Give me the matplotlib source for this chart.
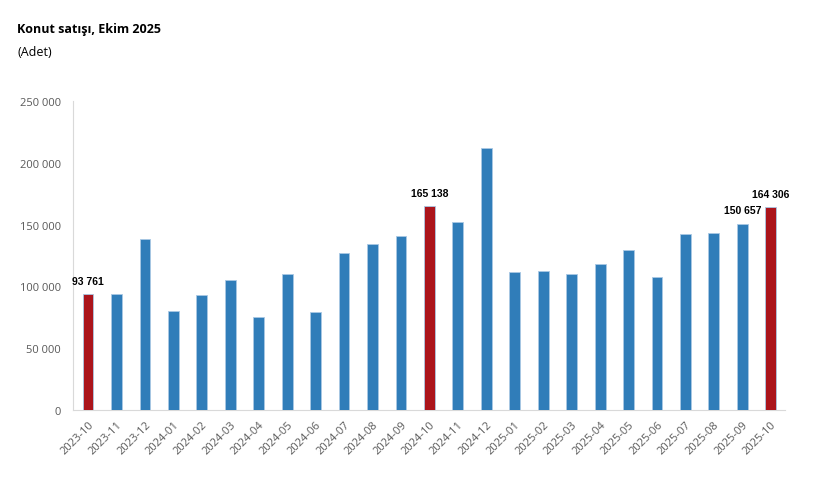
import matplotlib
matplotlib.use("Agg")
import matplotlib.pyplot as plt
from matplotlib.ticker import FuncFormatter

categories = ["2023-10", "2023-11", "2023-12", "2024-01", "2024-02", "2024-03",
              "2024-04", "2024-05", "2024-06", "2024-07", "2024-08", "2024-09",
              "2024-10", "2024-11", "2024-12", "2025-01", "2025-02", "2025-03",
              "2025-04", "2025-05", "2025-06", "2025-07", "2025-08", "2025-09",
              "2025-10"]
values = [93761, 93600, 138200, 79800, 93400, 105000,
          75300, 110300, 78900, 126800, 134000, 140800,
          165138, 152400, 212300, 111800, 112600, 110400,
          118000, 129600, 107400, 142500, 143000, 150657,
          164306]
highlight = ["2023-10", "2024-10", "2025-10"]
labelled = ["2023-10", "2024-10", "2025-09", "2025-10"]

blue = "#307DB9"
red = "#AB141B"

plt.rcParams['font.family'] = ['Open Sans', 'DejaVu Sans']

fig = plt.figure(figsize=(8.22, 4.89), dpi=100)
W, H = 822, 489
ax = fig.add_axes([73 / W, 1 - 411 / H, (785 - 73) / W, (411 - 102) / H])

x = list(range(len(categories)))
colors = [red if c in highlight else blue for c in categories]
ax.bar(x, values, width=0.38, color=colors, edgecolor="#A9C8E4", linewidth=0.6, zorder=3)

for i, (c, v) in enumerate(zip(categories, values)):
    if c in labelled:
        ax.annotate(f"{v:,}".replace(",", " "), (i, v), xytext=(0, 6),
                    textcoords="offset points", ha="center", va="bottom",
                    fontsize=7.5, fontweight="bold", family="Liberation Sans",
                    color="#000000")

ax.set_xlim(-0.53, len(categories) - 0.5)
ax.set_ylim(0, 250000)
ax.set_yticks([0, 50000, 100000, 150000, 200000, 250000])
ax.yaxis.set_major_formatter(FuncFormatter(lambda v, p: f"{int(v):,}".replace(",", " ")))
ax.set_xticks(x)
ax.set_xticklabels(categories, rotation=45, ha="right", rotation_mode="anchor")

for s in ["top", "right"]:
    ax.spines[s].set_visible(False)
for s in ["left", "bottom"]:
    ax.spines[s].set_color("#D9D9D9")
    ax.spines[s].set_linewidth(0.8)
ax.tick_params(axis="y", length=0, labelsize=8, labelcolor="#595959", pad=8.6)
ax.tick_params(axis="x", length=0, labelsize=8, labelcolor="#595959", pad=6)

fig.text(17 / W, 1 - 30 / H, "Konut satışı, Ekim 2025", fontsize=9, fontweight="bold",
         va="center", ha="left", color="#000000")
fig.text(17 / W, 1 - 53 / H, "(Adet)", fontsize=9, va="center", ha="left", color="#000000")

fig.savefig("out.png", dpi=100)
